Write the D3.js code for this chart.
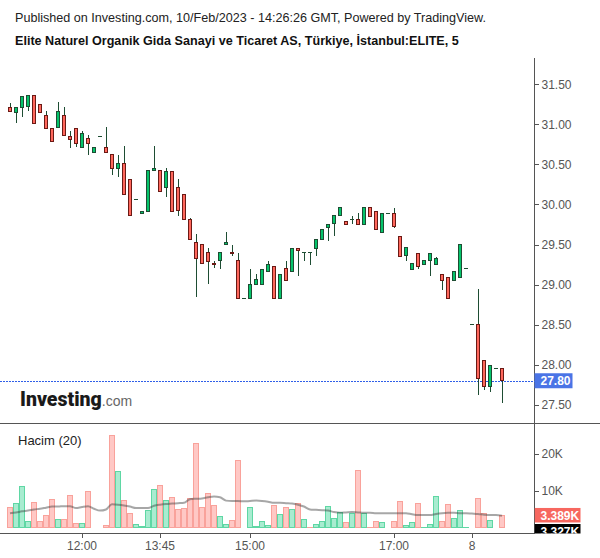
<!DOCTYPE html>
<html>
<head>
<meta charset="utf-8">
<script src="https://cdn.jsdelivr.net/npm/d3@7/dist/d3.min.js"></script>
<style>
html,body{margin:0;padding:0;background:#fff;}
svg{display:block;font-family:"Liberation Sans",Arial,sans-serif;}
</style>
</head>
<body>
<svg id="chart" width="600" height="558"></svg>
<script>
// ---- data ----
const openP  = [31.21,31.15,31.21,31.22,31.36,31.25,31.11,30.95,30.96,31.11,30.85,30.95,30.71,30.82,30.65,30.85,30.71,30.62,30.45,30.51,30.31,30.06,29.89,29.91,30.42,30.42,30.21,30.41,30.21,30.12,29.81,29.53,29.50,29.40,29.26,29.30,29.50,29.40,29.30,28.83,28.83,29.00,29.00,29.16,29.23,28.83,29.20,29.16,29.45,29.40,29.40,29.45,29.56,29.71,29.76,29.86,29.79,29.81,29.81,29.75,29.96,29.91,29.65,29.89,29.89,29.60,29.36,29.19,29.39,29.25,29.30,29.25,29.13,29.09,29.05,29.09,29.20,28.50,28.50,28.05,27.73,27.95,27.95];
const closeP = [31.16,31.21,31.35,31.36,31.01,31.15,30.95,30.79,31.16,30.86,30.81,30.76,30.89,30.76,30.71,30.85,30.65,30.45,30.51,30.12,29.86,30.06,29.91,30.42,30.45,30.16,30.41,29.91,29.93,29.81,29.56,29.33,29.26,29.29,29.25,29.40,29.53,29.39,28.83,28.83,29.00,29.06,29.19,29.25,28.83,29.13,29.05,29.45,29.43,29.40,29.40,29.56,29.69,29.75,29.86,29.96,29.75,29.81,29.75,29.96,29.85,29.69,29.89,29.89,29.73,29.35,29.46,29.26,29.23,29.30,29.39,29.33,29.05,28.83,29.16,29.50,29.20,28.50,27.83,27.73,27.99,27.95,27.80];
const highP  = [31.26,31.21,31.35,31.36,31.36,31.25,31.16,30.95,31.28,31.22,30.91,30.95,30.91,30.86,30.71,30.85,30.96,30.62,30.62,30.73,30.31,30.06,29.91,30.42,30.73,30.42,30.46,30.41,30.32,30.12,29.83,29.63,29.50,29.46,29.30,29.40,29.66,29.50,29.40,28.83,29.20,29.13,29.19,29.30,29.23,29.13,29.29,29.45,29.45,29.40,29.40,29.56,29.69,29.76,29.86,29.96,29.79,29.86,29.89,29.96,29.96,29.91,29.89,29.89,29.95,29.60,29.46,29.26,29.39,29.30,29.39,29.35,29.13,29.09,29.16,29.50,29.20,28.50,28.95,28.05,27.99,27.95,27.95];
const lowP   = [31.16,31.02,31.09,31.17,31.01,31.15,30.95,30.79,30.96,30.86,30.70,30.72,30.71,30.62,30.65,30.85,30.65,30.37,30.34,30.12,29.86,30.06,29.89,29.91,30.42,30.16,30.09,29.91,29.86,29.81,29.56,28.84,29.26,29.01,29.21,29.20,29.50,29.36,28.83,28.83,28.83,29.00,29.00,29.16,28.83,28.83,29.05,29.16,29.11,29.30,29.24,29.36,29.56,29.54,29.60,29.86,29.74,29.76,29.75,29.75,29.85,29.69,29.64,29.89,29.70,29.35,29.30,29.19,29.20,29.25,29.11,29.25,28.93,28.83,29.05,29.08,29.20,28.50,27.62,27.68,27.66,27.95,27.52];
const volumeK = [5.6,6.7,11.3,1.8,7.0,1.8,3.4,7.8,2.4,2.2,8.8,1.3,1.3,9.9,0.1,0.1,0.7,24.9,15.3,7.5,4.0,1.0,0.5,4.6,10.5,11.5,7.5,8.3,5.1,5.3,8.0,22.9,5.6,9.4,6.1,3.2,1.0,2.1,18.3,0.05,5.6,0.5,1.8,0.7,6.1,3.7,5.6,5.1,6.7,2.4,0.2,1.0,1.8,5.9,2.6,4.2,1.5,4.0,15.6,4.0,0.2,1.8,1.5,0.05,1.8,7.2,0.7,1.5,6.7,0.2,1.0,8.6,1.8,6.4,2.6,4.8,0.2,0.05,8.0,4.0,2.1,0.05,3.389];
const volumeUp = [0,1,1,1,0,0,0,0,1,0,0,0,1,0,1,1,0,0,1,0,0,1,1,1,1,0,1,0,0,0,0,0,0,0,0,1,1,0,0,1,1,1,1,1,0,1,0,1,0,1,0,1,1,1,1,1,0,1,0,1,0,0,1,1,0,0,1,1,0,1,1,1,0,0,1,1,1,1,0,0,1,1,0];
const volumeMA = [4.0,4.2,4.5,4.7,5.0,5.2,5.5,5.8,5.8,5.9,5.9,5.4,5.7,5.9,5.2,4.7,5.0,6.4,6.3,6.1,5.8,5.4,5.4,5.4,6.0,6.3,6.5,6.6,6.7,6.8,7.8,7.9,8.0,8.3,8.5,8.3,7.4,7.3,7.3,7.2,7.3,7.4,7.3,7.1,6.8,6.8,6.7,6.6,6.3,5.8,5.0,4.9,4.8,4.7,4.3,4.1,4.2,4.3,4.2,4.1,4.1,4.0,4.0,4.0,4.0,4.0,4.0,3.7,3.5,3.5,3.5,3.8,4.0,4.1,4.1,4.0,4.0,3.9,3.8,3.6,3.5,3.5,3.33];
const priceTicks = [27.5,28.0,28.5,29.0,29.5,30.0,30.5,31.0,31.5];
const volumeTicks = [10,20];
const timeTickIndex = [12,25,40,64,77];
const timeTickLabels = ["12:00","13:45","15:00","17:00","8"];
const lastPrice = 27.80;
const lastVolumeLabel = "3.389K";
const maVolumeLabel = "3.327K";
const titleLine1 = "Published on Investing.com, 10/Feb/2023 - 14:26:26 GMT, Powered by TradingView.";
const titleLine2 = "Elite Naturel Organik Gida Sanayi ve Ticaret AS, Türkiye, İstanbul:ELITE, 5";
const volumeTitle = "Hacim (20)";

// ---- build ----
const svg = d3.select("#chart");
const W = 600, H = 558;
const axisX = 534.5;
const idx = d3.range(openP.length);

const x = d3.scaleBand().domain(idx).range([7, 7 + 6 * idx.length]).paddingInner(0).paddingOuter(0);
const cx = i => x(i) + x.bandwidth() / 2;
const y = d3.scaleLinear().domain([27.5, 31.5]).range([404.8, 84.2]);
const yv = d3.scaleLinear().domain([0, 20]).range([528, 454]);

// header
svg.append("text").attr("x", 15).attr("y", 21.5).attr("font-size", 12.6).attr("fill", "#222")
  .text(titleLine1);
svg.append("text").attr("x", 15).attr("y", 45).attr("font-size", 12.6).attr("font-weight", "bold").attr("fill", "#111")
  .text(titleLine2);

// watermark logo
const logo = svg.append("text").attr("x", 20).attr("y", 406);
logo.append("tspan").attr("font-size", 19.5).attr("font-weight", "900").attr("fill", "#1a1a1a")
  .attr("font-family", "Roboto, 'Liberation Sans', Arial, sans-serif").text("Investing");
logo.append("tspan").attr("font-size", 14).attr("fill", "#666").text(".com");

// pane lines
svg.append("line").attr("x1", 0).attr("x2", W).attr("y1", 423.5).attr("y2", 423.5)
  .attr("stroke", "#555").attr("stroke-width", 1);
svg.append("line").attr("x1", 0).attr("x2", axisX).attr("y1", 533.5).attr("y2", 533.5)
  .attr("stroke", "#555").attr("stroke-width", 1);
svg.append("line").attr("x1", axisX).attr("x2", axisX).attr("y1", 58).attr("y2", 534)
  .attr("stroke", "#555").attr("stroke-width", 1);

// price axis
const yAxis = d3.axisRight(y).tickValues(priceTicks).tickFormat(d3.format(".2f")).tickSize(4).tickPadding(3);
const gy = svg.append("g").attr("transform", `translate(${axisX},0)`).call(yAxis);
gy.select(".domain").remove();
gy.selectAll("line").attr("stroke", "#555").attr("shape-rendering", "crispEdges");
gy.selectAll("text").attr("fill", "#555").attr("font-size", 12).attr("font-family", "'Liberation Sans', Arial, sans-serif");

// volume axis
const vAxis = d3.axisRight(yv).tickValues(volumeTicks).tickFormat(d => d + "K").tickSize(4).tickPadding(3);
const gv = svg.append("g").attr("transform", `translate(${axisX},0)`).call(vAxis);
gv.select(".domain").remove();
gv.selectAll("line").attr("stroke", "#555").attr("shape-rendering", "crispEdges");
gv.selectAll("text").attr("fill", "#555").attr("font-size", 12).attr("font-family", "'Liberation Sans', Arial, sans-serif");

// time axis
const xAxis = d3.axisBottom(x).tickValues(timeTickIndex).tickFormat((d, i) => timeTickLabels[i]).tickSize(4).tickPadding(4);
const gx = svg.append("g").attr("transform", "translate(0,533.5)").call(xAxis);
gx.select(".domain").remove();
gx.selectAll("line").attr("stroke", "#555").attr("shape-rendering", "crispEdges");
gx.selectAll("text").attr("fill", "#555").attr("font-size", 12).attr("font-family", "'Liberation Sans', Arial, sans-serif");

// volume title
svg.append("text").attr("x", 18).attr("y", 445).attr("font-size", 13).attr("fill", "#222").text(volumeTitle);

// volume bars
const vg = svg.append("g").attr("shape-rendering", "crispEdges");
vg.selectAll("rect").data(idx).join("rect")
  .attr("x", i => x(i) + 0.5)
  .attr("width", x.bandwidth() - 1)
  .attr("y", i => Math.min(yv(volumeK[i]), 527.5) )
  .attr("height", i => Math.max(528 - Math.min(yv(volumeK[i]), 527.5) - 0.5, 0))
  .attr("fill", i => volumeUp[i] ? "#a8ecd0" : "#ffc8c5")
  .attr("stroke", i => volumeUp[i] ? "#5fd7a4" : "#f9a29b")
  .attr("stroke-width", 1);

// volume MA
svg.append("path").datum(idx)
  .attr("d", d3.line().x(i => cx(i)).y(i => yv(volumeMA[i])).curve(d3.curveMonotoneX))
  .attr("fill", "none").attr("stroke", "rgba(60,60,60,0.45)").attr("stroke-width", 2);

// last price dashed line
svg.append("line").attr("x1", 0).attr("x2", axisX).attr("y1", Math.round(y(lastPrice)) + 0.5).attr("y2", Math.round(y(lastPrice)) + 0.5)
  .attr("stroke", "#2f5fe8").attr("stroke-width", 1).attr("stroke-dasharray", "2,1")
  .attr("shape-rendering", "crispEdges");

// candles
const cg = svg.append("g").attr("shape-rendering", "crispEdges");
cg.selectAll("line.wick").data(idx).join("line").attr("class", "wick")
  .attr("x1", i => cx(i)).attr("x2", i => cx(i))
  .attr("y1", i => y(highP[i])).attr("y2", i => y(lowP[i]))
  .attr("stroke", "#1e4d33").attr("stroke-width", 1);
cg.selectAll("rect.body").data(idx).join("rect").attr("class", "body")
  .attr("x", i => cx(i) - 1.5)
  .attr("width", 3)
  .attr("y", i => y(Math.max(openP[i], closeP[i])))
  .attr("height", i => Math.max(Math.abs(y(openP[i]) - y(closeP[i])), 0.01))
  .attr("fill", i => closeP[i] >= openP[i] ? "#05c46b" : "#ff675c")
  .attr("stroke", i => closeP[i] >= openP[i] ? "#1e4d33" : "#6a1a15")
  .attr("stroke-width", 1);

// price label
const lpY = y(lastPrice);
svg.append("rect").attr("x", axisX).attr("y", lpY - 7.5).attr("width", 38).attr("height", 15).attr("fill", "#4a74e6");
svg.append("text").attr("x", axisX + 6).attr("y", lpY + 4.5).attr("font-size", 12).attr("font-weight", "bold").attr("fill", "#fff").text(lastPrice.toFixed(2));

// volume labels
const clip = svg.append("clipPath").attr("id", "vclip");
clip.append("rect").attr("x", axisX).attr("y", 424).attr("width", 70).attr("height", 109.5);
const lv = svg.append("g").attr("clip-path", "url(#vclip)");
const vY = yv(volumeK[volumeK.length - 1]);
lv.append("rect").attr("x", axisX).attr("y", vY - 7.5).attr("width", 46).attr("height", 14.5).attr("fill", "#f7675f");
lv.append("text").attr("x", axisX + 6).attr("y", vY + 4.5).attr("font-size", 12).attr("font-weight", "bold").attr("fill", "#fff").text(lastVolumeLabel);
const mY = 529;
lv.append("rect").attr("x", axisX).attr("y", mY - 5).attr("width", 46).attr("height", 14.5).attr("fill", "#000");
lv.append("text").attr("x", axisX + 6).attr("y", mY + 7).attr("font-size", 12).attr("font-weight", "bold").attr("fill", "#fff").text(maVolumeLabel);
</script>
</body>
</html>
